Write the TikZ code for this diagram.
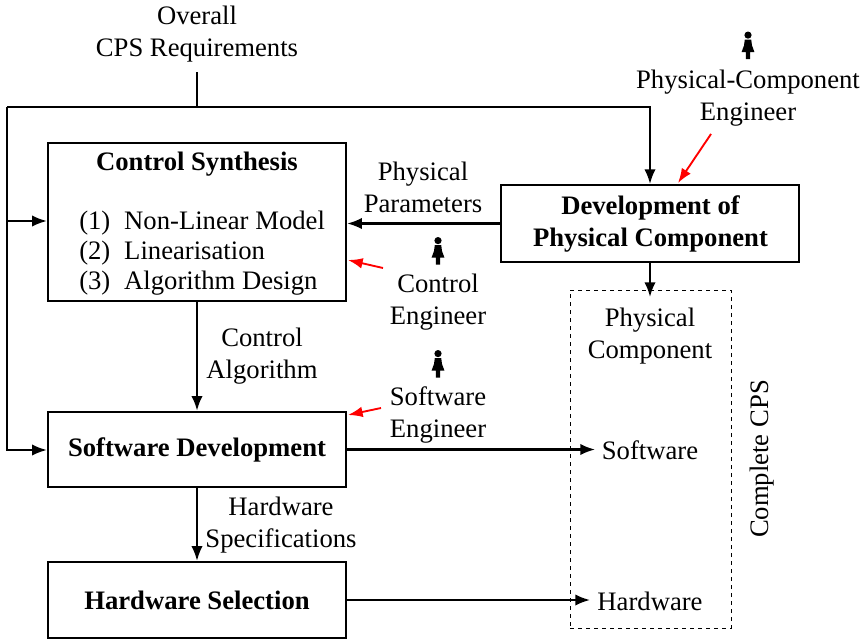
\documentclass[tikz,border=0pt]{standalone}
\usepackage{fontspec}
\setmainfont{Liberation Serif}
\usetikzlibrary{arrows.meta}
\definecolor{redarrow}{RGB}{255,0,0}
\newcommand{\lbfont}{\fontsize{20pt}{24pt}\selectfont}
\newcommand{\personicon}[2]{%
  \fill (#1,#2+3.6) circle (3.6);
  \fill (#1-3.2,#2+8) -- (#1+3.2,#2+8) -- (#1+4,#2+14) -- (#1+6.4,#2+20.5) -- (#1+2.2,#2+20.5) -- (#1+2.2,#2+27.5) -- (#1-2.2,#2+27.5) -- (#1-2.2,#2+20.5) -- (#1-6.4,#2+20.5) -- (#1-4,#2+14) -- cycle;
}
\tikzset{
  every node/.style={font=\lbfont},
  main/.style={draw,line width=1.7pt,inner sep=0pt,align=center,font=\lbfont\bfseries},
  conn/.style={line width=1.6pt,-{Latex[length=11pt,width=8.5pt]}},
  plain/.style={line width=1.6pt},
  engarrow/.style={redarrow,line width=1.4pt,-{Latex[length=11pt,width=8pt]}},
  lbl/.style={align=center,inner sep=0pt,font=\lbfont}
}
\begin{document}
\begin{tikzpicture}[x=0.75pt,y=-0.75pt]
\useasboundingbox (0,0) rectangle (866,639);
% boxes
\node[main,minimum width=223.5pt,minimum height=118.5pt] (ctrl) at (197,222) {};
\node[main,minimum width=224pt,minimum height=57.5pt] (dev) at (650,223.5) {};
\node[lbl,font=\lbfont\bfseries] (devt) at (650.5,223.5) {Development of\\Physical Component};
\node[main,minimum width=223.5pt,minimum height=56.5pt] (sw) at (197,449.5) {};
\node[lbl,font=\lbfont\bfseries] (swl) at (197,450) {Software Development};
\node[main,minimum width=223.5pt,minimum height=57pt] (hw) at (197,600) {};
\node[lbl,font=\lbfont\bfseries] (hwl) at (197,600) {Hardware Selection};
\node[draw,dashed,line width=0.6pt,minimum width=120.75pt,minimum height=253.5pt,inner sep=0pt] (cps) at (650.5,459) {};
% control text
\node[lbl,font=\lbfont\bfseries] (ctitle) at (197,164) {Control Synthesis};
\node[lbl,anchor=west] (c1) at (79,223) {(1)\hspace{0.27em} Non-Linear Model};
\node[lbl,anchor=west] (c2) at (79,253) {(2)\hspace{0.27em} Linearisation};
\node[lbl,anchor=west] (c3) at (79,283) {(3)\hspace{0.27em} Algorithm Design};
% labels
\node[lbl] (req) at (197,34.5) {Overall\\CPS Requirements};
\node[lbl] (pce) at (748,98.5) {Physical-Component\\Engineer};
\node[lbl] (pp) at (423,187) {Physical\\Parameters};
\node[lbl] (ce) at (438,302.5) {Control\\Engineer};
\node[lbl] (ca) at (262,356.5) {Control\\Algorithm};
\node[lbl] (se) at (438,414.5) {Software\\Engineer};
\node[lbl] (hs) at (281,525.5) {Hardware\\Specifications};
\node[lbl] (pc) at (650,336.5) {Physical\\Component};
\node[lbl] (swt) at (650,450) {Software};
\node[lbl] (hwt) at (650,601) {Hardware};
\node[lbl,rotate=90] (cc) at (762,459) {Complete CPS};
% person icons
\personicon{748}{31.5}
\personicon{438}{237}
\personicon{438}{350}
% coordinates
\coordinate (t0) at (197,72);
\coordinate (t1) at (197,107);
\coordinate (tl) at (7,107);
\coordinate (bl) at (7,450);
\coordinate (ml) at (7,221);
\coordinate (dvb) at (650,297);
\coordinate (swe) at (595,450);
\coordinate (hwe) at (590,600.5);
% connectors
\draw[plain] (t0) -- (t1);
\draw[conn] (tl) -- (t1 -| dev.north) -- (dev.north);
\draw[conn] (tl) -- (bl) -- (bl -| sw.west);
\draw[conn] (ml) -- (ml -| ctrl.west);
\draw[conn] (dev.west) -- (dev.west -| ctrl.east);
\draw[conn] (dev.south) -- (dvb);
\draw[conn] (ctrl.south) -- (sw.north);
\draw[conn] (sw.south) -- (hw.north);
\draw[conn] (sw.east) -- (sw.east -| swe);
\draw[conn] (hw.east) -- (hw.east -| hwe);
% red
\coordinate (r1) at (711,134); \coordinate (r1e) at (678,183);
\coordinate (r2) at (383,268); \coordinate (r2e) at (348,260);
\coordinate (r3) at (381,408); \coordinate (r3e) at (348,415);
\draw[engarrow] (r1) -- (r1e);
\draw[engarrow] (r2) -- (r2e);
\draw[engarrow] (r3) -- (r3e);
\end{tikzpicture}
\end{document}
